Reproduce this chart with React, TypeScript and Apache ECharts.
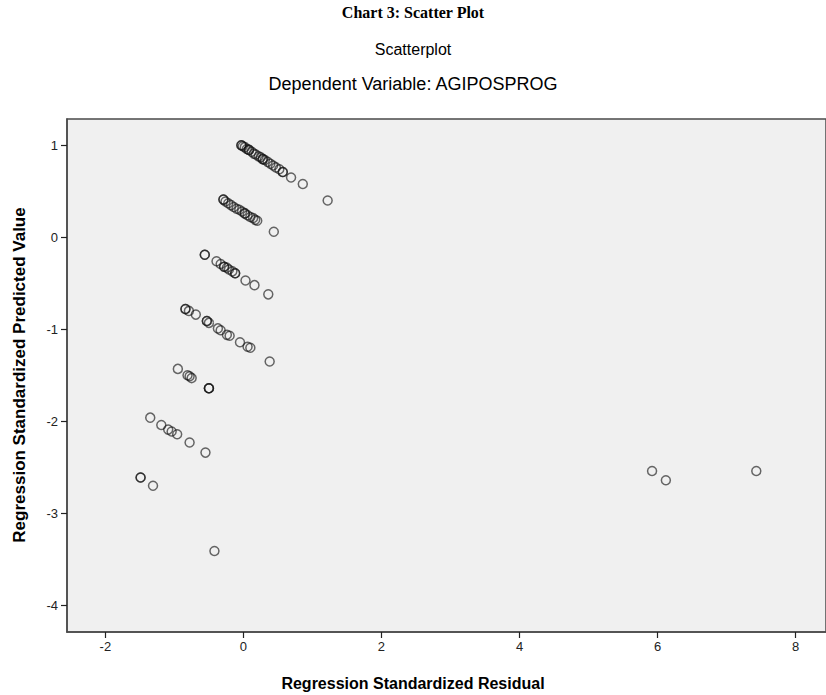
import React, { useEffect, useRef } from "react";
import * as echarts from "echarts";

const chartTitle = "Chart 3: Scatter Plot";
const plotTitle = "Scatterplot";
const plotSubtitle = "Dependent Variable: AGIPOSPROG";
const xAxisName = "Regression Standardized Residual";
const yAxisName = "Regression Standardized Predicted Value";

const xTicks = [-2, 0, 2, 4, 6, 8];
const yTicks = [-4, -3, -2, -1, 0, 1];

// Regression standardized residual (x)
const residuals = [
  // band 1
  -0.03, -0.03, -0.01, 0.02, 0.05, 0.08, 0.08, 0.12, 0.15, 0.18, 0.22, 0.25, 0.28, 0.28, 0.31, 0.35, 0.39, 0.43, 0.47, 0.52, 0.57, 0.57, 0.69, 0.86, 1.22,
  // band 2
  -0.29, -0.29, -0.26, -0.22, -0.18, -0.14, -0.1, -0.06, -0.02, 0.02, 0.02, 0.06, 0.1, 0.14, 0.17, 0.2, 0.44,
  // band 3
  -0.56, -0.56, -0.39, -0.33, -0.28, -0.28, -0.24, -0.21, -0.16, -0.12, -0.12, 0.03, 0.16, 0.36,
  // band 4
  -0.84, -0.84, -0.79, -0.69, -0.53, -0.53, -0.5, -0.37, -0.33, -0.24, -0.2, -0.05, 0.06, 0.1, 0.38,
  // band 5
  -0.95, -0.81, -0.78, -0.75, -0.5, -0.5, -0.5,
  // band 6
  -1.35, -1.19, -1.09, -1.04, -0.96, -0.78, -0.55,
  // band 7
  -1.49, -1.49, -1.31, -0.42,
  // outliers
  5.92, 6.12, 7.43,
];

// Regression standardized predicted value (y)
const predicted = [
  // band 1
  1.0, 1.0, 0.99, 0.98, 0.96, 0.95, 0.95, 0.93, 0.91, 0.9, 0.88, 0.87, 0.85, 0.85, 0.84, 0.82, 0.8, 0.78, 0.76, 0.74, 0.71, 0.71, 0.65, 0.58, 0.4,
  // band 2
  0.41, 0.41, 0.39, 0.37, 0.35, 0.33, 0.31, 0.3, 0.28, 0.26, 0.26, 0.24, 0.22, 0.21, 0.19, 0.18, 0.06,
  // band 3
  -0.19, -0.19, -0.26, -0.29, -0.32, -0.32, -0.33, -0.35, -0.37, -0.39, -0.39, -0.47, -0.52, -0.62,
  // band 4
  -0.78, -0.78, -0.8, -0.84, -0.91, -0.91, -0.93, -0.99, -1.01, -1.06, -1.07, -1.14, -1.19, -1.2, -1.35,
  // band 5
  -1.43, -1.5, -1.51, -1.53, -1.64, -1.64, -1.64,
  // band 6
  -1.96, -2.04, -2.09, -2.11, -2.14, -2.23, -2.34,
  // band 7
  -2.61, -2.61, -2.7, -3.41,
  // outliers
  -2.54, -2.64, -2.54,
];

const SANS = "'Liberation Sans', Arial, sans-serif";
const NARROW = "'Liberation Sans Narrow', 'Liberation Sans', Arial, sans-serif";

export default function App() {
  const ref = useRef<HTMLDivElement>(null);

  useEffect(() => {
    if (!ref.current) return;
    const chart = echarts.init(ref.current, undefined, { renderer: "svg" });
    const data = residuals.map((x, i) => [x, predicted[i]]);
    chart.setOption({
      animation: false,
      backgroundColor: "#ffffff",
      grid: {
        left: 67,
        top: 119,
        width: 760,
        height: 513,
        show: true,
        backgroundColor: "#f0f0f0",
        borderColor: "#4a4a4a",
        borderWidth: 1.5,
      },
      xAxis: {
        type: "value",
        min: -2.556,
        max: 8.44,
        splitLine: { show: false },
        axisLine: { show: true, onZero: false, lineStyle: { color: "#4a4a4a", width: 1.5 } },
        axisTick: {
          show: true,
          customValues: xTicks,
          length: 6,
          lineStyle: { color: "#222", width: 1.2 },
        },
        axisLabel: {
          customValues: xTicks,
          margin: 8,
          color: "#222",
          fontSize: 13,
          fontFamily: NARROW,
        },
      },
      yAxis: {
        type: "value",
        min: -4.29,
        max: 1.286,
        splitLine: { show: false },
        axisLine: { show: true, onZero: false, lineStyle: { color: "#4a4a4a", width: 1.5 } },
        axisTick: {
          show: true,
          customValues: yTicks,
          length: 6,
          lineStyle: { color: "#222", width: 1.2 },
        },
        axisLabel: {
          customValues: yTicks,
          margin: 9,
          color: "#222",
          fontSize: 13,
          fontFamily: NARROW,
        },
      },
      series: [
        {
          type: "scatter",
          data,
          symbol: "circle",
          symbolSize: 9,
          itemStyle: {
            color: "rgba(0,0,0,0)",
            borderColor: "rgba(20,20,20,0.8)",
            borderWidth: 1.5,
          },
        },
      ],
      graphic: [
        {
          type: "text",
          x: 413,
          y: 12,
          style: {
            text: chartTitle,
            font: "bold 16px 'Liberation Serif', 'Times New Roman', serif",
            fill: "#000",
            textAlign: "center",
            textVerticalAlign: "middle",
          },
        },
        {
          type: "text",
          x: 413,
          y: 49,
          style: {
            text: plotTitle,
            font: `16px ${SANS}`,
            fill: "#000",
            textAlign: "center",
            textVerticalAlign: "middle",
          },
        },
        {
          type: "text",
          x: 413,
          y: 84,
          style: {
            text: plotSubtitle,
            font: `18px ${SANS}`,
            fill: "#000",
            textAlign: "center",
            textVerticalAlign: "middle",
          },
        },
        {
          type: "text",
          x: 413,
          y: 683,
          style: {
            text: xAxisName,
            font: `bold 16px ${SANS}`,
            fill: "#000",
            textAlign: "center",
            textVerticalAlign: "middle",
          },
        },
        {
          type: "text",
          x: 19,
          y: 375,
          rotation: Math.PI / 2,
          style: {
            text: yAxisName,
            font: `bold 17px ${SANS}`,
            fill: "#000",
            textAlign: "center",
            textVerticalAlign: "middle",
          },
        },
      ],
    });
    return () => chart.dispose();
  }, []);

  return (
    <div
      ref={ref}
      style={{ position: "fixed", left: 0, top: 0, width: 826, height: 695 }}
    />
  );
}
